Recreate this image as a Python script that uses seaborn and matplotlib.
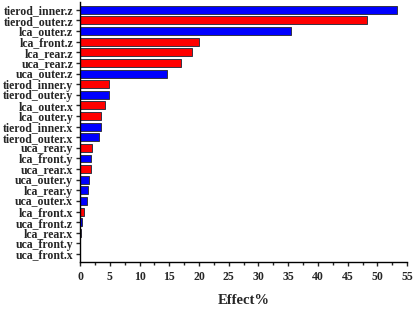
import matplotlib
matplotlib.use('Agg')
import matplotlib.pyplot as plt
import seaborn as sns
import pandas as pd
from matplotlib.ticker import MultipleLocator

params = ['tierod_inner.z', 'tierod_outer.z', 'lca_outer.z', 'lca_front.z', 'lca_rear.z',
          'uca_rear.z', 'uca_outer.z', 'tierod_inner.y', 'tierod_outer.y', 'lca_outer.x',
          'lca_outer.y', 'tierod_inner.x', 'tierod_outer.x', 'uca_rear.y', 'lca_front.y',
          'uca_rear.x', 'uca_outer.y', 'lca_rear.y', 'uca_outer.x', 'lca_front.x',
          'uca_front.z', 'lca_rear.x', 'uca_front.y', 'uca_front.x']
effect = [53.3, 48.2, 35.5, 20.0, 18.8, 16.9, 14.6, 4.9, 4.8, 4.15,
          3.6, 3.5, 3.2, 1.97, 1.85, 1.85, 1.5, 1.3, 1.1, 0.73,
          0.28, 0.17, 0.03, 0.02]
sign = ['b', 'r', 'b', 'r', 'r', 'r', 'b', 'r', 'b', 'r',
        'r', 'b', 'b', 'r', 'b', 'r', 'b', 'b', 'b', 'r',
        'b', 'r', 'b', 'b']

df = pd.DataFrame({'param': params, 'effect': effect, 'sign': sign})

sns.set_style('ticks')
plt.rcParams['font.family'] = ['Liberation Serif', 'DejaVu Serif']
plt.rcParams['font.weight'] = 'bold'

fig = plt.figure(figsize=(4.15, 3.09), dpi=100)
ax = fig.add_axes([0.193, 0.152, 0.788, 0.842])

sns.barplot(data=df, y='param', x='effect', hue='sign', orient='h',
            palette={'b': '#0000ff', 'r': '#ff0000'}, dodge=False, width=0.75,
            saturation=1, edgecolor='#333344', linewidth=0.7, legend=False, ax=ax)

ax.set_xlim(0, 55)
ax.set_ylim(23.75, -0.75)
ax.xaxis.set_major_locator(MultipleLocator(5))
ax.xaxis.set_minor_locator(MultipleLocator(2.5))
ax.set_xlabel('Effect%', fontsize=10.5, fontweight='bold', labelpad=8)
ax.set_ylabel('')
ax.tick_params(axis='y', direction='out', width=1, length=3, labelsize=8.5, pad=2)
ax.tick_params(axis='x', direction='out', width=1, length=3, labelsize=8.5)
ax.tick_params(axis='x', which='minor', direction='out', length=2, width=1)
for lbl in ax.get_xticklabels() + ax.get_yticklabels():
    lbl.set_fontweight('bold')
for s in ['top', 'right']:
    ax.spines[s].set_visible(False)
for s in ['left', 'bottom']:
    ax.spines[s].set_linewidth(1)
    ax.spines[s].set_color('black')

fig.savefig('out.png', dpi=100)
